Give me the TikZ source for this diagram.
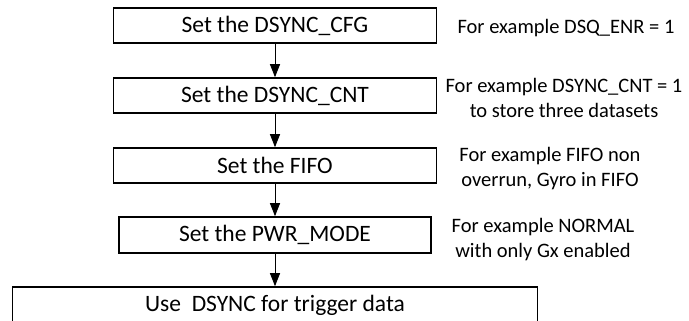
\documentclass[tikz,border=0pt]{standalone}
\usepackage{fontspec}
\setmainfont{Carlito}
\usetikzlibrary{arrows.meta,positioning}

\tikzset{
  stepbox/.style={draw, line width=1.6pt, inner sep=0pt, minimum height=35pt,
    font=\fontsize{23.5}{28}\selectfont},
  note/.style={align=center, inner sep=0pt, font=\fontsize{20.5}{25}\selectfont},
  flow/.style={-{Triangle[length=13pt,width=10pt]}, line width=0.9pt},
}

\begin{document}
\begin{tikzpicture}[x=1pt,y=-1pt]
  \clip (0,0) rectangle (689,321);
  % steps
  \node[stepbox, minimum width=323pt] (cfg) at (275,25.5) {Set the DSYNC\_CFG};
  \node[stepbox, minimum width=323pt] (cnt) at (275,95.5) {Set the DSYNC\_CNT};
  \node[stepbox, minimum width=323pt] (fifo) at (275,165.5) {Set the FIFO};
  \node[stepbox, minimum width=312pt, minimum height=36pt] (pwr) at (275,235) {Set the PWR\_MODE};
  \node[stepbox, minimum width=525pt, minimum height=36pt] (use) at (275,305) {Use\ \ DSYNC for trigger data};
  % notes
  \node[note] (ncfg) at (566,28) {For example DSQ\_ENR = 1};
  \node[note] (ncnt) at (564,97.5) {For example DSYNC\_CNT = 1\\to store three datasets};
  \node[note] (nfifo) at (550,168.5) {For example FIFO non\\overrun, Gyro in FIFO};
  \node[note] (npwr) at (543,239.5) {For example NORMAL\\with only Gx enabled};
  % arrows
  \draw[flow] (cfg) -- (cnt);
  \draw[flow] (cnt) -- (fifo);
  \draw[flow] (fifo) -- (pwr);
  \draw[flow] (pwr) -- (use);
\end{tikzpicture}
\end{document}
